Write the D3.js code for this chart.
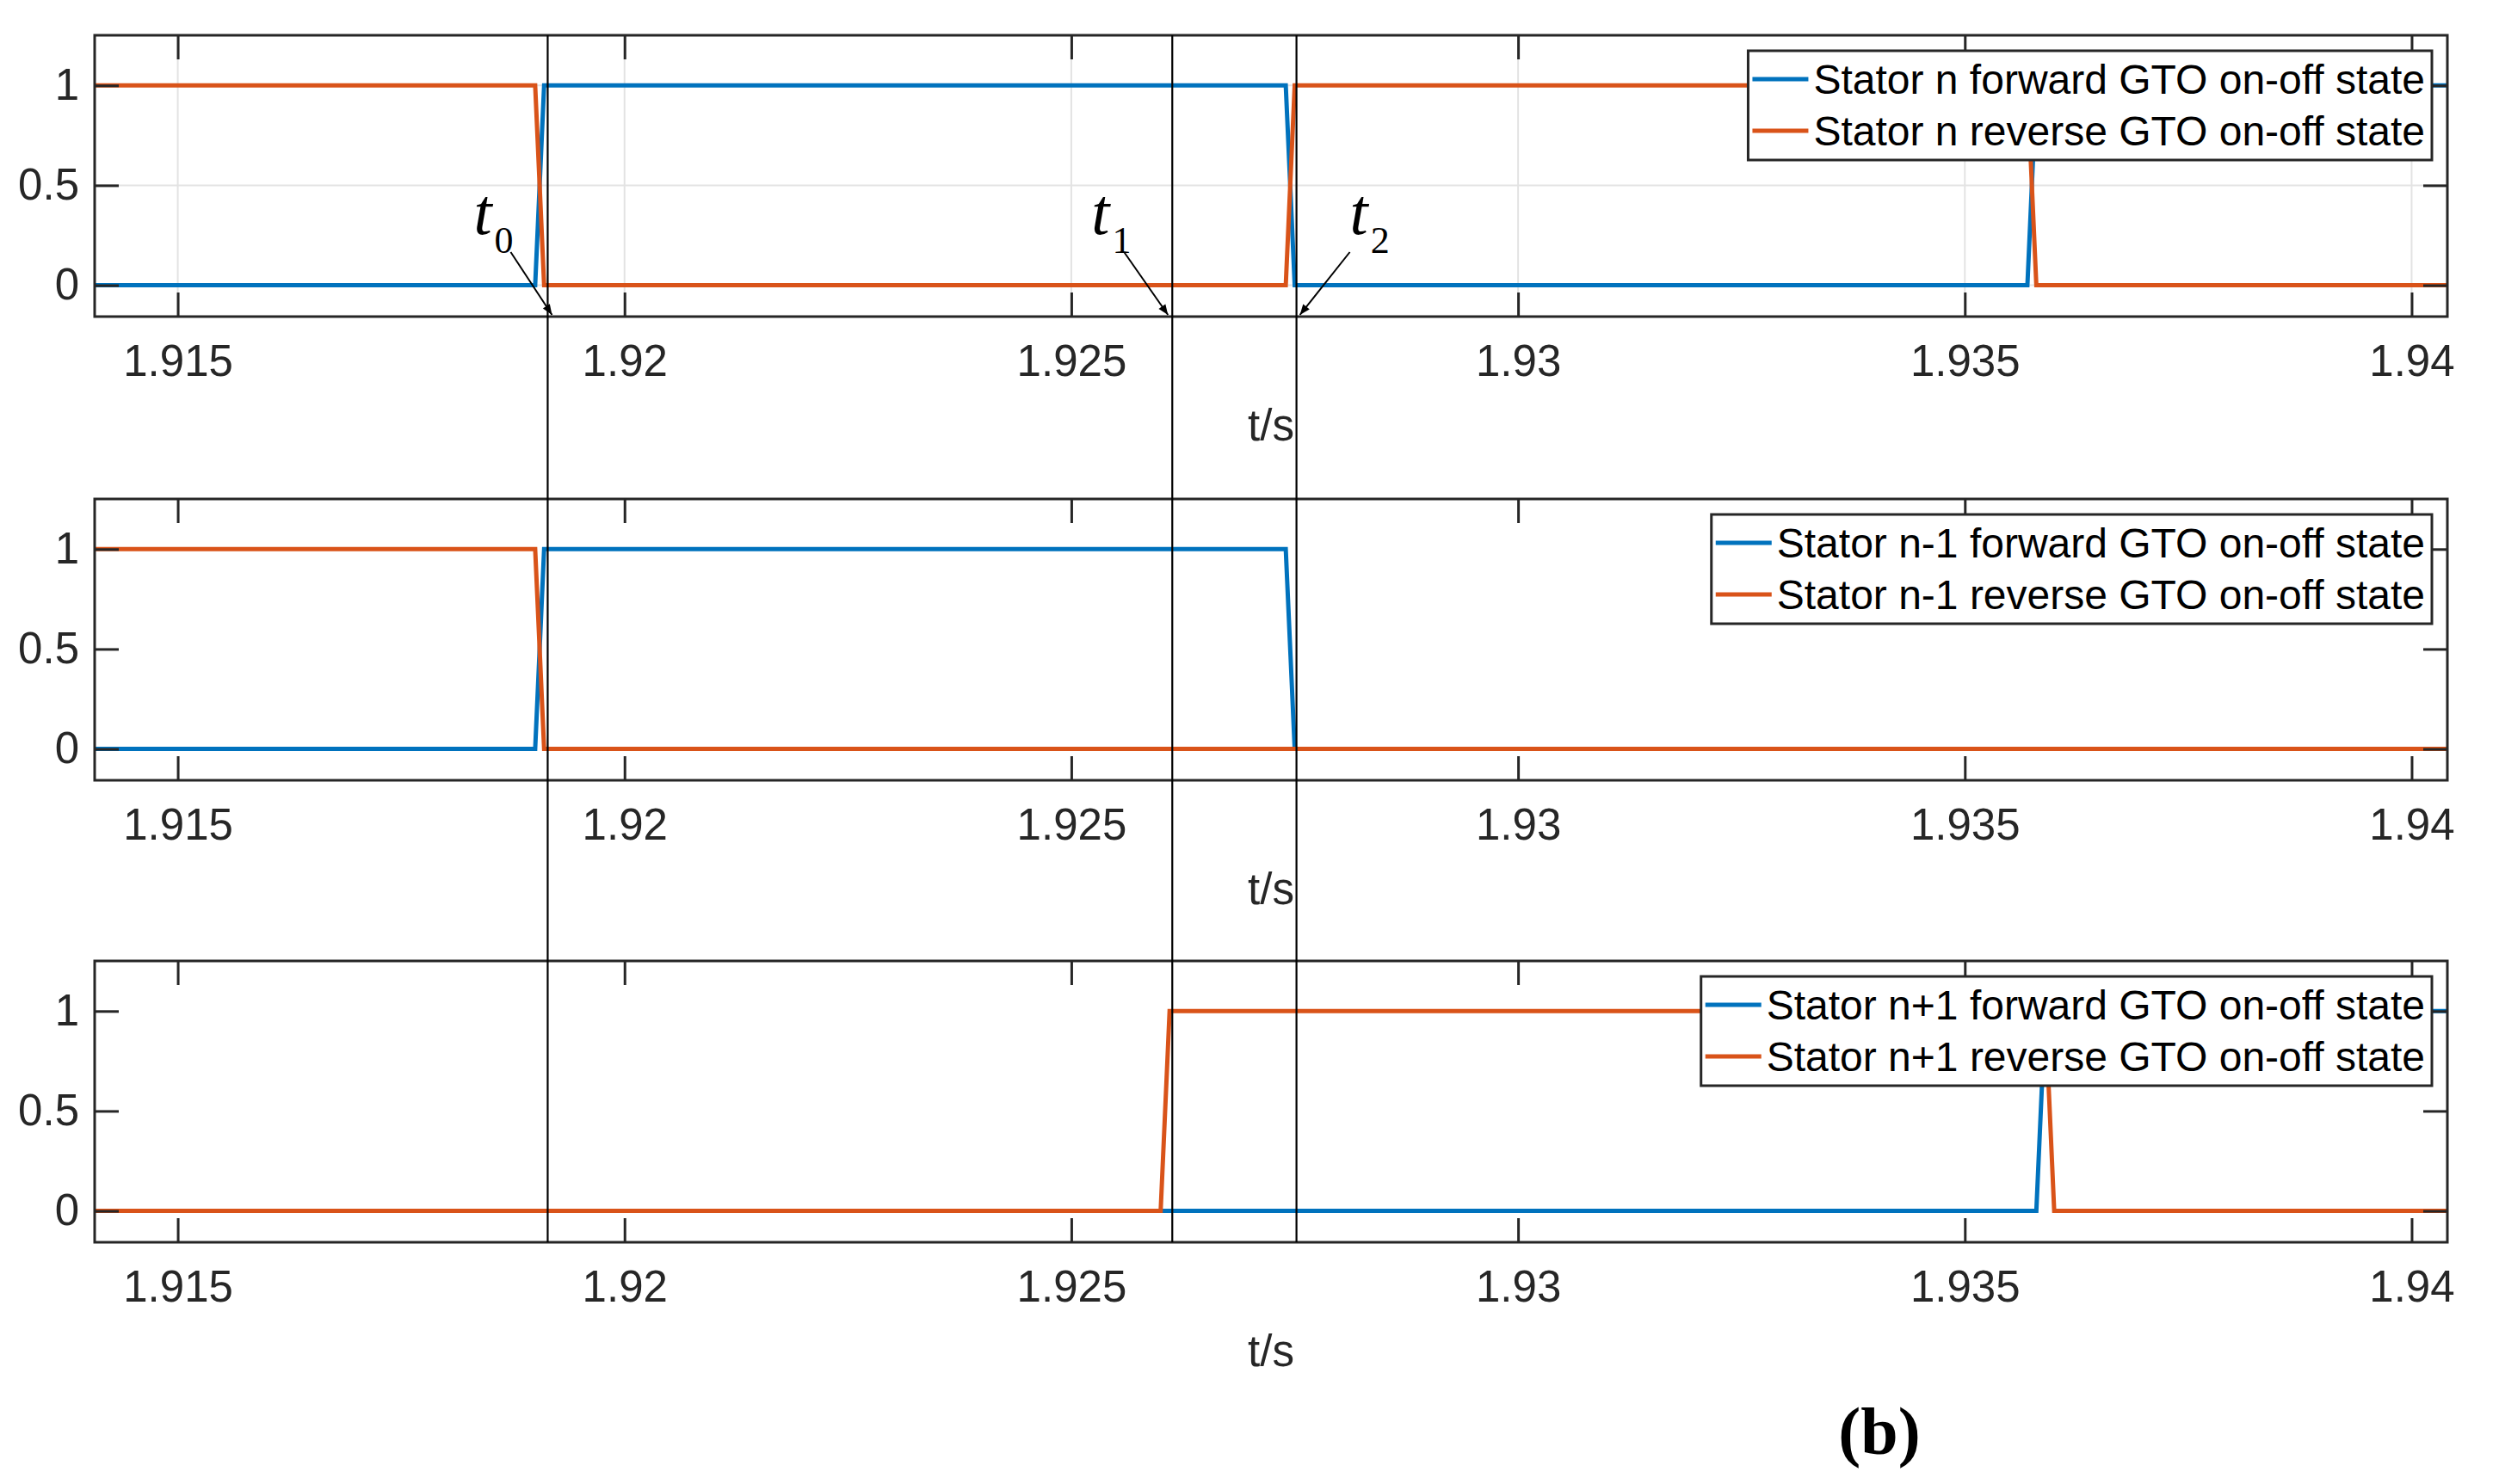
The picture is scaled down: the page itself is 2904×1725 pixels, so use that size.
<!DOCTYPE html>
<html>
<head>
<meta charset="utf-8">
<script src="https://cdn.jsdelivr.net/npm/d3@7"></script>
<style>
body { margin: 0; background: #fff; }
text { font-family: "Liberation Sans", Arial, sans-serif; }
</style>
</head>
<body>
<script>
// axis settings
var xDomain = [1.91407, 1.94040];
var xTicks = [1.915, 1.92, 1.925, 1.93, 1.935, 1.94];
var xTickLabels = ['1.915', '1.92', '1.925', '1.93', '1.935', '1.94'];
var yDomain = [-0.157, 1.251];
var yTicks = [0, 0.5, 1];
var yTickLabels = ['0', '0.5', '1'];
var xLabel = 't/s';

// stator n
var tNFwd = [1.91407, 1.9190, 1.9191, 1.9274, 1.9275, 1.9357, 1.9358, 1.9404];
var vNFwd = [0, 0, 1, 1, 0, 0, 1, 1];
var tNRev = [1.91407, 1.9190, 1.9191, 1.9274, 1.9275, 1.9357, 1.9358, 1.9404];
var vNRev = [1, 1, 0, 0, 1, 1, 0, 0];
// stator n-1
var tM1Fwd = [1.91407, 1.9190, 1.9191, 1.9274, 1.9275, 1.9404];
var vM1Fwd = [0, 0, 1, 1, 0, 0];
var tM1Rev = [1.91407, 1.9190, 1.9191, 1.9404];
var vM1Rev = [1, 1, 0, 0];
// stator n+1
var tP1Fwd = [1.91407, 1.9358, 1.9359, 1.9404];
var vP1Fwd = [0, 0, 1, 1];
var tP1Rev = [1.91407, 1.9260, 1.9261, 1.9359, 1.9360, 1.9404];
var vP1Rev = [0, 0, 1, 1, 0, 0];

var fwdNames = ['Stator n forward GTO on-off state', 'Stator n-1 forward GTO on-off state', 'Stator n+1 forward GTO on-off state'];
var revNames = ['Stator n reverse GTO on-off state', 'Stator n-1 reverse GTO on-off state', 'Stator n+1 reverse GTO on-off state'];

// marker instants t0, t1, t2
var markerTimes = [1.91914, 1.92613, 1.92752];
var markerSubs = ['0', '1', '2'];

var colFwd = '#0072BD', colRev = '#D95319', axCol = '#262626';
var W = 2904, H = 1725;
var left = 110, right = 2844, panelH = 327;
var panelTops = [41, 580, 1117];

var svg = d3.select('body').append('svg').attr('width', W).attr('height', H);
svg.append('rect').attr('width', W).attr('height', H).attr('fill', '#fff');

svg.append('defs').append('marker').attr('id', 'arr')
  .attr('viewBox', '0 0 10 10').attr('refX', 10).attr('refY', 5)
  .attr('markerWidth', 8).attr('markerHeight', 6).attr('orient', 'auto')
  .attr('markerUnits', 'strokeWidth')
  .append('path').attr('d', 'M0,1 L10,5 L0,9 Z').attr('fill', '#000');

var x = d3.scaleLinear().domain(xDomain).range([left, right]);

var series = [
  [[tNFwd, vNFwd], [tNRev, vNRev]],
  [[tM1Fwd, vM1Fwd], [tM1Rev, vM1Rev]],
  [[tP1Fwd, vP1Fwd], [tP1Rev, vP1Rev]]
];

panelTops.forEach(function(top, p) {
  var y = d3.scaleLinear().domain(yDomain).range([top + panelH, top]);
  var g = svg.append('g');
  var cid = 'clip' + p;
  g.append('clipPath').attr('id', cid).append('rect')
    .attr('x', left).attr('y', top).attr('width', right - left).attr('height', panelH);

  // grid only in the first panel
  if (p === 0) {
    g.selectAll('.gx').data(xTicks).enter().append('line')
      .attr('x1', function(d) { return x(d); }).attr('x2', function(d) { return x(d); })
      .attr('y1', top).attr('y2', top + panelH)
      .attr('stroke', '#e3e3e3').attr('stroke-width', 2);
    g.selectAll('.gy').data(yTicks).enter().append('line')
      .attr('y1', function(d) { return y(d); }).attr('y2', function(d) { return y(d); })
      .attr('x1', left).attr('x2', right)
      .attr('stroke', '#e3e3e3').attr('stroke-width', 2);
  }

  var line = d3.line().x(function(d) { return x(d[0]); }).y(function(d) { return y(d[1]); });
  [colFwd, colRev].forEach(function(c, k) {
    var s = series[p][k];
    var pts = s[0].map(function(t, i) { return [t, s[1][i]]; });
    g.append('path').datum(pts).attr('d', line)
      .attr('clip-path', 'url(#' + cid + ')')
      .attr('fill', 'none').attr('stroke', c).attr('stroke-width', 5)
      .attr('stroke-linejoin', 'miter');
  });

  // axes, ticks inside on all four sides
  var ax = function(a) {
    a.selectAll('.domain').remove();
    a.selectAll('.tick line').attr('stroke', axCol).attr('stroke-width', 3);
    a.selectAll('.tick text').attr('fill', axCol).style('font-size', '51px');
  };
  g.append('g').attr('transform', 'translate(0,' + (top + panelH) + ')')
    .call(d3.axisBottom(x).tickValues(xTicks).tickSize(-28).tickPadding(33)
      .tickFormat(function(d, i) { return xTickLabels[i]; })).call(ax);
  g.append('g').attr('transform', 'translate(0,' + top + ')')
    .call(d3.axisTop(x).tickValues(xTicks).tickSize(-28).tickFormat('')).call(ax);
  g.append('g').attr('transform', 'translate(' + left + ',0)')
    .call(d3.axisLeft(y).tickValues(yTicks).tickSize(-28).tickPadding(18)
      .tickFormat(function(d, i) { return yTickLabels[i]; })).call(ax);
  g.append('g').attr('transform', 'translate(' + right + ',0)')
    .call(d3.axisRight(y).tickValues(yTicks).tickSize(-28).tickFormat('')).call(ax);
  g.selectAll('text').attr('font-family', '"Liberation Sans", Arial, sans-serif');

  g.append('rect').attr('x', left).attr('y', top).attr('width', right - left).attr('height', panelH)
    .attr('fill', 'none').attr('stroke', axCol).attr('stroke-width', 3);

  g.append('text').attr('x', (left + right) / 2).attr('y', top + panelH + 144)
    .attr('text-anchor', 'middle').style('font-size', '51px').attr('fill', axCol).text(xLabel);

  // legend
  var lg = g.append('g');
  var boxRight = 2826, boxTop = top + 18;
  var t1 = lg.append('text').attr('y', boxTop + 33 + 17).style('font-size', '48px').attr('fill', '#000').text(fwdNames[p]);
  var t2 = lg.append('text').attr('y', boxTop + 93 + 17).style('font-size', '48px').attr('fill', '#000').text(revNames[p]);
  var tw = Math.max(t1.node().getComputedTextLength(), t2.node().getComputedTextLength());
  var textX = boxRight - 8 - tw;
  var boxLeft = textX - 76;
  lg.insert('rect', 'text').attr('x', boxLeft).attr('y', boxTop).attr('width', boxRight - boxLeft).attr('height', 127)
    .attr('fill', '#fff').attr('stroke', axCol).attr('stroke-width', 3);
  t1.attr('x', textX); t2.attr('x', textX);
  [colFwd, colRev].forEach(function(c, k) {
    lg.append('line').attr('x1', boxLeft + 5).attr('x2', boxLeft + 70)
      .attr('y1', boxTop + 33 + 60 * k).attr('y2', boxTop + 33 + 60 * k)
      .attr('stroke', c).attr('stroke-width', 5);
  });
});

// vertical marker lines across all panels
var yTop = panelTops[0], yBot = panelTops[2] + panelH;
svg.selectAll('.vm').data(markerTimes).enter().append('line')
  .attr('x1', function(d) { return x(d); }).attr('x2', function(d) { return x(d); })
  .attr('y1', yTop).attr('y2', yBot).attr('stroke', '#000').attr('stroke-width', 2.2);

// annotation arrows and labels (offsets relative to each marker line)
var ann = [
  { tipDx: 5, startDx: -43, labDx: -86 },
  { tipDx: -5, startDx: -56, labDx: -94 },
  { tipDx: 4, startDx: 62, labDx: 62 }
];
var pBot = panelTops[0] + panelH;
markerTimes.forEach(function(t, i) {
  var xm = x(t), a = ann[i];
  svg.append('line').attr('x1', xm + a.startDx).attr('y1', pBot - 75)
    .attr('x2', xm + a.tipDx).attr('y2', pBot - 2)
    .attr('stroke', '#000').attr('stroke-width', 2).attr('marker-end', 'url(#arr)');
  var tx = svg.append('text').attr('x', xm + a.labDx).attr('y', pBot - 96)
    .style('font-family', '"Liberation Serif", "Times New Roman", serif')
    .style('font-size', '76px').attr('fill', '#000');
  tx.append('tspan').style('font-style', 'italic').text('t');
  tx.append('tspan').attr('dy', 22).attr('dx', 3).style('font-size', '44px').text(markerSubs[i]);
});

// panel label
svg.append('text').attr('x', 2184).attr('y', 1690).attr('text-anchor', 'middle')
  .style('font-family', '"Liberation Serif", "Times New Roman", serif')
  .style('font-size', '78px').style('font-weight', 'bold').attr('fill', '#000').text('(b)');
</script>
</body>
</html>
